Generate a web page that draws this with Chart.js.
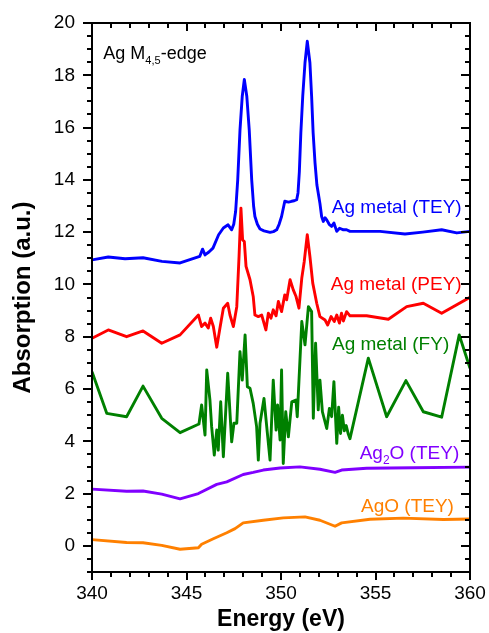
<!DOCTYPE html>
<html>
<head>
<meta charset="utf-8">
<script src="https://cdn.jsdelivr.net/npm/chart.js@4.4.1/dist/chart.umd.min.js"></script>
<style>
  body { margin: 0; background: #fff; }
  #wrap { width: 489px; height: 633px; }
</style>
</head>
<body>
<div id="wrap"><canvas id="xas" width="489" height="633"></canvas></div>
<script>
// energy axis (eV) and absorption values
const teyMetalE = [340, 340.86, 341.75, 342.7, 343.7, 344.66, 345.7, 345.85, 345.98, 346.2, 346.4, 346.7, 346.95, 347.2, 347.39, 347.5, 347.6, 347.71, 347.83, 347.95, 348.06, 348.19, 348.32, 348.45, 348.55, 348.62, 348.75, 348.89, 349.1, 349.42, 349.6, 349.77, 349.9, 350.03, 350.2, 350.4, 350.56, 350.7, 350.83, 350.9, 350.97, 351.05, 351.15, 351.27, 351.39, 351.53, 351.62, 351.7, 351.8, 351.9, 352.06, 352.15, 352.24, 352.33, 352.42, 352.55, 352.68, 352.8, 352.95, 353.1, 353.3, 353.47, 353.65, 355.24, 356.56, 357.5, 358.5, 359.3, 360]
const teyMetal = [10.94, 11.05, 10.98, 11.02, 10.88, 10.82, 11.07, 11.35, 11.13, 11.25, 11.39, 11.9, 12.16, 12.28, 12.09, 12.3, 12.8, 14.0, 15.9, 17.2, 17.84, 17.2, 15.9, 14.0, 13.0, 12.6, 12.3, 12.12, 12.05, 11.99, 12.02, 12.09, 12.3, 12.6, 13.18, 13.15, 13.18, 13.2, 13.24, 13.5, 14.3, 15.8, 17.2, 18.48, 19.3, 18.48, 17.2, 15.8, 14.65, 13.8, 13.1, 12.6, 12.41, 12.55, 12.47, 12.3, 12.22, 12.35, 12.03, 12.15, 12.09, 12.09, 12.03, 12.03, 11.93, 12.0, 12.09, 11.97, 12.03]

const peyMetalE = [340, 340.86, 341.83, 342.7, 343.69, 344.66, 345.63, 345.8, 345.98, 346.15, 346.28, 346.42, 346.6, 346.77, 346.95, 347.18, 347.3, 347.48, 347.66, 347.78, 347.88, 347.97, 348.06, 348.15, 348.36, 348.53, 348.62, 348.8, 348.98, 349.2, 349.33, 349.47, 349.59, 349.74, 349.86, 350.03, 350.2, 350.3, 350.48, 350.65, 350.79, 350.95, 351.1, 351.23, 351.39, 351.53, 351.68, 351.89, 352.06, 352.33, 352.47, 352.65, 352.82, 352.95, 353.09, 353.2, 353.3, 353.47, 353.65, 354.53, 355.68, 356.65, 357.53, 358.5, 360]
const peyMetal = [7.94, 8.26, 8.0, 8.22, 7.75, 8.07, 8.83, 8.39, 8.52, 8.33, 8.71, 8.39, 7.6, 8.33, 9.09, 9.28, 8.83, 8.39, 9.15, 11.07, 12.92, 11.7, 11.64, 10.69, 10.18, 9.54, 8.83, 8.77, 8.83, 8.26, 8.9, 8.71, 9.03, 8.8, 9.35, 8.96, 9.6, 9.41, 10.18, 9.79, 9.55, 9.09, 10.24, 10.88, 11.9, 11.07, 10.05, 9.28, 8.77, 8.64, 8.45, 8.77, 8.58, 8.83, 8.52, 8.9, 8.6, 8.96, 8.8, 8.8, 8.67, 9.15, 9.28, 8.9, 9.51]

const fyMetalE = [340, 340.78, 341.83, 342.7, 343.69, 344.66, 345.66, 345.8, 345.98, 346.07, 346.24, 346.33, 346.47, 346.6, 346.68, 346.81, 346.95, 347.18, 347.39, 347.51, 347.66, 347.83, 347.95, 348.1, 348.22, 348.36, 348.53, 348.71, 348.8, 348.89, 349.1, 349.28, 349.42, 349.59, 349.74, 349.82, 349.95, 350.03, 350.12, 350.25, 350.39, 350.57, 350.79, 350.86, 351.1, 351.27, 351.45, 351.62, 351.71, 351.83, 351.97, 352.06, 352.19, 352.42, 352.56, 352.68, 352.8, 352.95, 353.05, 353.15, 353.25, 353.35, 353.45, 353.55, 353.65, 354.62, 355.59, 356.61, 357.53, 358.5, 359.43, 360]
const fyMetal = [6.66, 5.07, 4.94, 6.11, 4.88, 4.33, 4.66, 5.39, 4.24, 6.73, 5.58, 4.56, 3.47, 4.43, 3.66, 5.51, 3.41, 6.6, 3.98, 4.69, 4.69, 7.43, 6.34, 8.07, 6.09, 6.03, 5.45, 4.56, 3.28, 4.69, 5.64, 4.3, 3.28, 6.34, 4.43, 5.39, 4.05, 6.73, 3.15, 5.13, 4.17, 5.51, 5.58, 4.94, 8.58, 7.69, 9.15, 8.96, 4.88, 7.75, 5.2, 6.34, 5.13, 4.49, 5.26, 4.94, 6.28, 3.92, 5.3, 4.3, 5.0, 4.4, 4.6, 4.3, 4.1, 7.18, 4.94, 6.32, 5.13, 4.92, 8.07, 6.79]

const teyAg2oE = [340, 341.83, 342.7, 343.69, 344.66, 345.63, 346.6, 347.13, 348.0, 348.53, 349.06, 349.95, 351.0, 352.06, 352.86, 353.21, 354.53, 357.0, 360]
const teyAg2o = [2.17, 2.09, 2.1, 1.98, 1.8, 2.0, 2.35, 2.45, 2.73, 2.81, 2.9, 2.98, 3.02, 2.93, 2.81, 2.9, 2.97, 2.99, 3.01]

const teyAgoE = [340, 341.83, 342.7, 343.69, 344.66, 345.63, 345.8, 346.42, 347.13, 347.57, 348.0, 349.06, 350.12, 351.27, 352.06, 352.86, 353.21, 354.71, 356.47, 358.59, 360]
const teyAgo = [0.24, 0.13, 0.12, 0.02, -0.13, -0.07, 0.06, 0.27, 0.5, 0.66, 0.88, 0.98, 1.07, 1.11, 0.98, 0.75, 0.88, 1.02, 1.06, 1.01, 1.03]

const xTickValues = [340, 345, 350, 355, 360]
const yTickValues = [0, 2, 4, 6, 8, 10, 12, 14, 16, 18, 20]

// curve labels, anchored in data units (right end / baseline)
const notes = [
    { parts: [['Ag metal (TEY)', 0]], x: 359.56, y: 12.73, color: '#0000ff', align: 'right' },
    { parts: [['Ag metal (PEY)', 0]], x: 359.56, y: 9.79, color: '#ff0000', align: 'right' },
    { parts: [['Ag metal (FY)', 0]], x: 358.9, y: 7.49, color: '#008000', align: 'right' },
    { parts: [['Ag', 0], ['2', 1], ['O (TEY)', 0]], x: 359.43, y: 3.34, color: '#8000ff', align: 'right' },
    { parts: [['AgO (TEY)', 0]], x: 359.15, y: 1.3, color: '#ff8000', align: 'right' },
    { parts: [['Ag M', 0], ['4,5', 1], ['-edge', 0]], x: 340.6, y: 18.63, color: '#000', align: 'left', size: 18 },
]

function pts(xs, ys) {
    return xs.map((e, i) => ({ x: e, y: ys[i] }))
}

function line(label, xs, ys, color) {
    return {
        label: label,
        data: pts(xs, ys),
        showLine: true,
        borderColor: color,
        backgroundColor: color,
        borderWidth: 2.9,
        pointRadius: 0,
        borderJoinStyle: 'round',
        tension: 0,
    }
}

const FONT = '"Liberation Sans", Arial, Helvetica, sans-serif'

const framePlugin = {
    id: 'frame',
    afterDraw(chart) {
        const ctx = chart.ctx
        const a = chart.chartArea
        const sx = chart.scales.x
        const sy = chart.scales.y
        ctx.save()
        ctx.strokeStyle = '#000'
        ctx.lineWidth = 2
        ctx.strokeRect(a.left, a.top, a.right - a.left, a.bottom - a.top)

        ctx.beginPath()
        for (let v = sx.min; v <= sx.max + 1e-6; v += 1) {
            const px = Math.round(sx.getPixelForValue(v))
            const major = Math.abs(v % 5) < 1e-6
            const len = major ? 8 : 5
            ctx.moveTo(px, a.bottom)
            ctx.lineTo(px, a.bottom + len)
            ctx.moveTo(px, a.top)
            ctx.lineTo(px, a.top + len)
        }
        for (let v = sy.min; v <= sy.max + 1e-6; v += 0.5) {
            const py = Math.round(sy.getPixelForValue(v))
            const major = Math.abs(v % 2) < 1e-6
            const len = major ? 9 : 5
            ctx.moveTo(a.left, py)
            ctx.lineTo(a.left - len, py)
            ctx.moveTo(a.right, py)
            ctx.lineTo(a.right - len, py)
        }
        ctx.stroke()

        // text labels
        notes.forEach((n) => {
            const size = n.size || 19
            const sub = Math.round(size * 0.62)
            let w = 0
            n.parts.forEach(([t, s]) => {
                ctx.font = (s ? sub : size) + 'px ' + FONT
                w += ctx.measureText(t).width
            })
            let px = sx.getPixelForValue(n.x)
            const py = sy.getPixelForValue(n.y)
            if (n.align === 'right') px -= w
            ctx.fillStyle = n.color
            ctx.textBaseline = 'alphabetic'
            ctx.textAlign = 'left'
            n.parts.forEach(([t, s]) => {
                ctx.font = (s ? sub : size) + 'px ' + FONT
                ctx.fillText(t, px, s ? py + size * 0.28 : py)
                px += ctx.measureText(t).width
            })
        })
        ctx.restore()
    },
}

const ctx = document.getElementById('xas').getContext('2d')
new Chart(ctx, {
    type: 'scatter',
    data: {
        datasets: [
            line('Ag metal (TEY)', teyMetalE, teyMetal, '#0000ff'),
            line('Ag metal (PEY)', peyMetalE, peyMetal, '#ff0000'),
            line('Ag metal (FY)', fyMetalE, fyMetal, '#008000'),
            line('Ag2O (TEY)', teyAg2oE, teyAg2o, '#8000ff'),
            line('AgO (TEY)', teyAgoE, teyAgo, '#ff8000'),
        ],
    },
    options: {
        responsive: false,
        animation: false,
        layout: { padding: { left: 0, top: 23, right: 19, bottom: 0 } },
        plugins: {
            legend: { display: false },
            tooltip: { enabled: false },
        },
        scales: {
            x: {
                type: 'linear',
                min: 340,
                max: 360,
                afterBuildTicks: (s) => {
                    s.ticks = xTickValues.map((v) => ({ value: v }))
                },
                afterFit: (s) => {
                    s.height = 61
                    s.paddingLeft = 0
                    s.paddingRight = 0
                },
                grid: { display: false, drawTicks: false },
                border: { display: false },
                ticks: {
                    color: '#000',
                    padding: 10,
                    maxRotation: 0,
                    font: { family: FONT, size: 19 },
                },
                title: {
                    display: true,
                    text: 'Energy (eV)',
                    color: '#000',
                    padding: { top: 0, bottom: 0 },
                    font: { family: FONT, size: 23, weight: 'bold' },
                },
            },
            y: {
                min: -1,
                max: 20,
                afterBuildTicks: (s) => {
                    s.ticks = yTickValues.map((v) => ({ value: v }))
                },
                afterFit: (s) => {
                    s.width = 92
                    s.paddingTop = 0
                    s.paddingBottom = 0
                },
                grid: { display: false, drawTicks: false },
                border: { display: false },
                ticks: {
                    color: '#000',
                    padding: 17,
                    font: { family: FONT, size: 19 },
                },
                title: {
                    display: true,
                    text: 'Absorption (a.u.)',
                    color: '#000',
                    padding: { top: 9, bottom: 0 },
                    font: { family: FONT, size: 24, weight: 'bold' },
                },
            },
        },
    },
    plugins: [framePlugin],
})
</script>
</body>
</html>
